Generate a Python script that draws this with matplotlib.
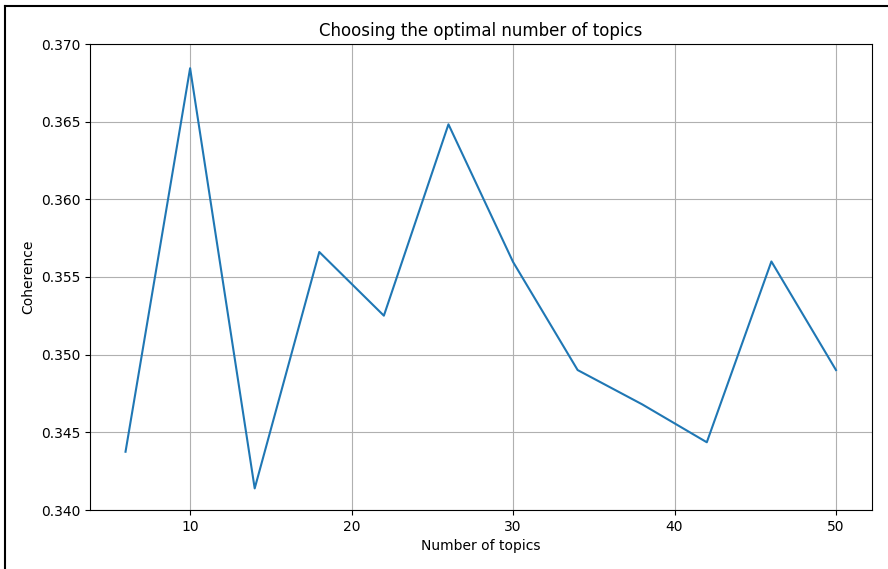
import matplotlib
matplotlib.use("Agg")
import matplotlib.pyplot as plt
from matplotlib.lines import Line2D

# coherence score for each model size
num_topics = [6, 10, 14, 18, 22, 26, 30, 34, 38, 42, 46, 50]
coherence = [0.34375, 0.36844, 0.34139, 0.35661, 0.35251, 0.36483,
             0.35597, 0.34901, 0.34680, 0.34436, 0.35600, 0.34901]

fig = plt.figure(figsize=(8.88, 5.69), dpi=100)
ax = fig.add_axes([90 / 888, 59 / 569, 781.5 / 888, 466 / 569])

ax.plot(num_topics, coherence)
ax.set_ylim(0.340, 0.370)
ax.set_xticks([10, 20, 30, 40, 50])
ax.set_title("Choosing the optimal number of topics")
ax.set_xlabel("Number of topics")
ax.set_ylabel("Coherence")
ax.grid(True)

# dark frame along the top and left edges
fig.add_artist(Line2D([5 / 888, 1], [1 - 5.7 / 569, 1 - 5.7 / 569],
                      transform=fig.transFigure, color="black", lw=1.5))
fig.add_artist(Line2D([5 / 888, 5 / 888], [0, 1 - 5.7 / 569],
                      transform=fig.transFigure, color="black", lw=1.5))

fig.savefig("out.png", dpi=100)
